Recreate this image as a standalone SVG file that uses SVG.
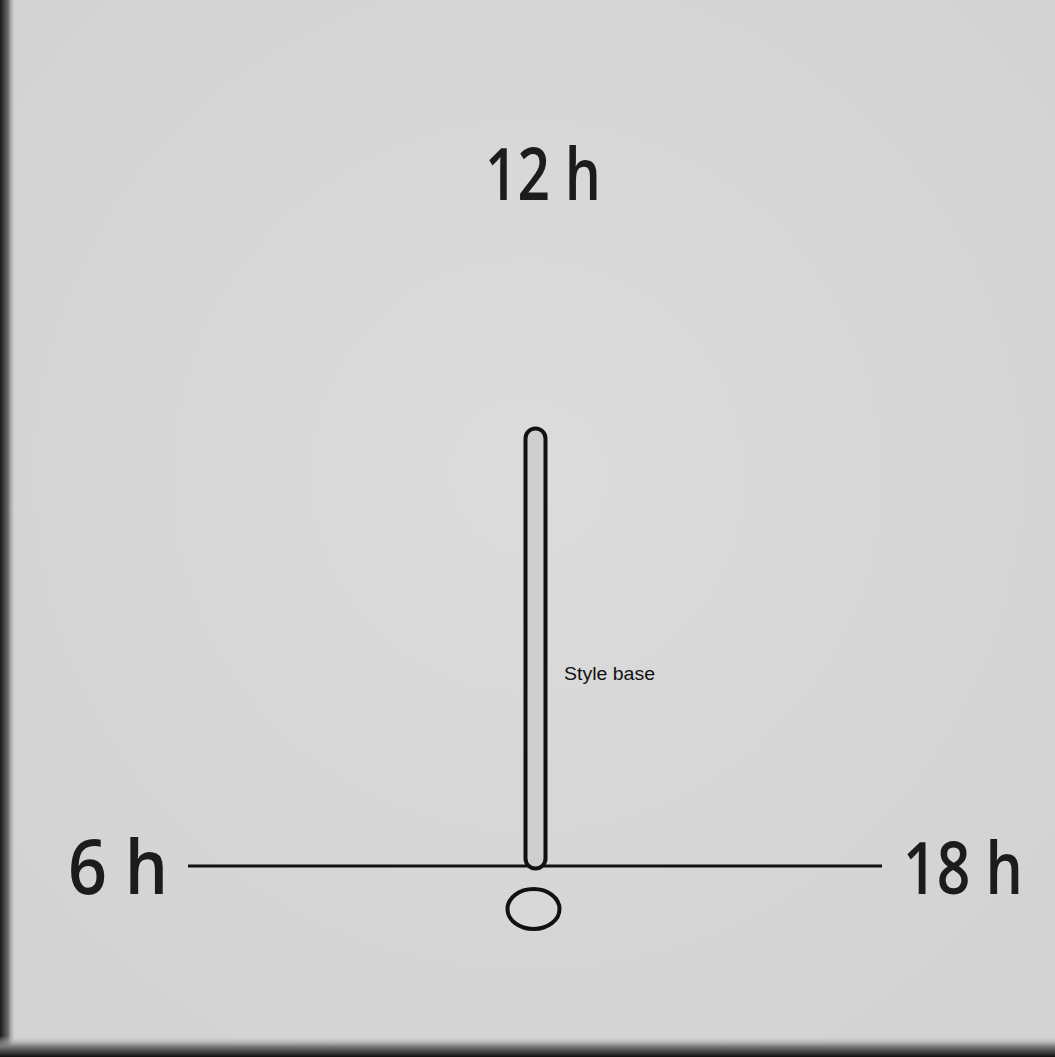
<svg xmlns="http://www.w3.org/2000/svg" width="1055" height="1057" viewBox="0 0 1055 1057">
  <defs>
    <linearGradient id="leftEdge" x1="0" y1="0" x2="1" y2="0">
      <stop offset="0" stop-color="#1a1a1a"/>
      <stop offset="0.5" stop-color="#6a6a6a"/>
      <stop offset="1" stop-color="#d6d6d6" stop-opacity="0"/>
    </linearGradient>
    <linearGradient id="bottomEdge" x1="0" y1="0" x2="0" y2="1">
      <stop offset="0" stop-color="#d6d6d6" stop-opacity="0"/>
      <stop offset="0.5" stop-color="#7a7a7a"/>
      <stop offset="1" stop-color="#101010"/>
    </linearGradient>
    <radialGradient id="bg" cx="0.5" cy="0.45" r="0.7">
      <stop offset="0" stop-color="#dcdcdc"/>
      <stop offset="1" stop-color="#d2d2d2"/>
    </radialGradient>
  </defs>
  <style>
    .lbl { font-family: "Open Sans", "Liberation Sans", sans-serif; font-weight: 600; fill: #1c1c1c; }
    .small { font-family: "Liberation Sans", Arial, sans-serif; font-size: 18px; fill: #111; }
    .ln { stroke: #111; fill: none; }
  </style>
  <rect x="0" y="0" width="1055" height="1057" fill="url(#bg)"/>
  <rect x="0" y="0" width="16" height="1057" fill="url(#leftEdge)"/>
  <rect x="0" y="1036" width="1055" height="21" fill="url(#bottomEdge)"/>

  <g id="connectors">
    <line class="ln" x1="188" y1="866" x2="882" y2="866" stroke-width="3"/>
  </g>

  <g id="style">
    <rect x="525.5" y="428.5" width="20" height="440" rx="10" ry="10" fill="#cfcfcf" stroke="#111" stroke-width="4"/>
  </g>

  <g id="origin">
    <ellipse cx="533.5" cy="909" rx="26" ry="20" fill="#d8d8d8" stroke="#111" stroke-width="4"/>
  </g>

  <g id="label-12h">
    <text class="lbl" x="485" y="200" font-size="72" textLength="116" lengthAdjust="spacingAndGlyphs">12 h</text>
  </g>
  <g id="label-6h">
    <text class="lbl" x="68" y="894" font-size="76" textLength="100" lengthAdjust="spacingAndGlyphs">6 h</text>
  </g>
  <g id="label-18h">
    <text class="lbl" x="903" y="894" font-size="72" textLength="120" lengthAdjust="spacingAndGlyphs">18 h</text>
  </g>
  <g id="label-style">
    <text class="small" x="564" y="680" textLength="91" lengthAdjust="spacingAndGlyphs">Style base</text>
  </g>
</svg>
